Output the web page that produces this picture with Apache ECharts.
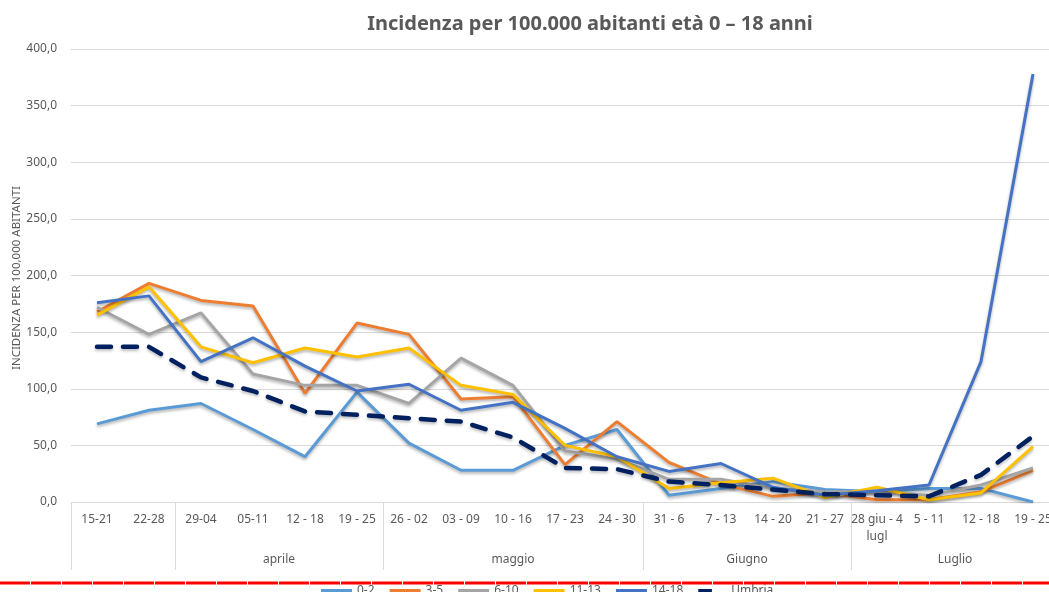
<!DOCTYPE html>
<html>
<head>
<meta charset="utf-8">
<title>Incidenza per 100.000 abitanti</title>
<script src="https://cdn.jsdelivr.net/npm/echarts@6/dist/echarts.min.js"></script>
<style>
    html, body { margin: 0; padding: 0; background: #fff; }
    #main-chart { width: 1049px; height: 592px; }
</style>
</head>
<body>
<div id="main-chart"></div>
<script>
// settimane (categorie asse x)
const weeks = ['15-21', '22-28', '29-04', '05-11', '12 - 18', '19 - 25', '26 - 02', '03 - 09', '10 - 16',
    '17 - 23', '24 - 30', '31 - 6', '7 - 13', '14 - 20', '21 - 27', '28 giu - 4\nlugl', '5 - 11', '12 - 18', '19 - 25'];

// mesi: posizione centrale e separatori (in unità di categoria)
const months = ['aprile', 'maggio', 'Giugno', 'Luglio'];
const monthCenters = [4, 8.5, 13, 17];
const monthBounds = [0, 2, 6, 11, 15, 19];

// incidenza per fascia d'età
const age0_2 = [69, 81, 87, 64, 40, 97, 52, 28, 28, 50, 64, 6, 12, 18, 11, 9, 12, 12, 0];
const age3_5 = [168, 193, 178, 173, 96, 158, 148, 91, 93, 33, 71, 35, 16, 5, 8, 2, 2, 9, 28];
const age6_10 = [172, 148, 167, 113, 103, 103, 87, 127, 103, 45, 38, 20, 20, 12, 9, 9, 6, 15, 30];
const age11_13 = [165, 190, 137, 123, 136, 128, 136, 103, 95, 50, 40, 12, 17, 21, 4, 13, 2, 8, 49];
const age14_18 = [176, 182, 124, 145, 120, 98, 104, 81, 88, 65, 40, 27, 34, 13, 6, 10, 15, 124, 378];
const umbria = [137, 137, 110, 98, 80, 77, 74, 71, 57, 30, 29, 18, 15, 11, 7, 6, 5, 24, 58];

const seriesNames = ['0-2', '3-5', '6-10', '11-13', '14-18', 'Umbria'];
const yAxisTitle = 'INCIDENZA PER 100,000 ABITANTI';

(function () {
    'use strict';

    const chart = echarts.init(document.getElementById('main-chart'));
    const textColor = '#595959';
    const gridColor = '#D9D9D9';
    const font = 'Noto Sans';

    // stile linea comune con ombra stile Excel
    function lineSeries(name, data, color) {
        return {
            name: name,
            type: 'line',
            data: data,
            symbol: 'none',
            xAxisIndex: 0,
            lineStyle: {
                color: color,
                width: 3,
                shadowColor: 'rgba(0,0,0,0.3)',
                shadowBlur: 3,
                shadowOffsetY: 2
            },
            itemStyle: { color: color }
        };
    }

    // icone legenda: linea piena, trattino corto per Umbria
    const legendData = seriesNames.map(function (n) {
        if (n === 'Umbria') {
            return { name: n, icon: 'path://M0,0H17V5H0Z M30.9,2.4H31V2.5H30.9Z' };
        }
        return { name: n, icon: 'rect' };
    });

    const option = {
        animation: false,
        title: {
            text: 'Incidenza per 100.000 abitanti età 0 – 18 anni',
            left: 585,
            textAlign: 'center',
            top: 9,
            textStyle: { color: textColor, fontSize: 20, fontWeight: 'bold', fontFamily: font }
        },
        legend: {
            data: legendData,
            left: 316,
            top: 580,
            itemWidth: 31,
            itemHeight: 4,
            itemGap: 15,
            textStyle: { color: textColor, fontSize: 12, fontFamily: font }
        },
        grid: { left: 71, top: 49, width: 988, height: 453, outerBoundsMode: 'none' },
        xAxis: [
            {
                type: 'category',
                data: weeks,
                boundaryGap: true,
                axisLine: { lineStyle: { color: gridColor, width: 1 } },
                axisTick: { show: false },
                axisLabel: {
                    color: textColor, fontSize: 12, fontFamily: font,
                    margin: 9, interval: 0, lineHeight: 17
                }
            },
            {
                // asse secondario per i mesi
                type: 'value',
                position: 'bottom',
                min: 0,
                max: 19,
                axisLine: { show: false },
                splitLine: { show: false },
                axisTick: {
                    show: true,
                    customValues: monthBounds,
                    length: 68,
                    lineStyle: { color: gridColor, width: 1 }
                },
                axisLabel: {
                    customValues: monthCenters,
                    margin: 52,
                    color: textColor, fontSize: 12, fontFamily: font,
                    formatter: function (v) {
                        const i = monthCenters.indexOf(v);
                        return i >= 0 ? months[i] : '';
                    }
                }
            }
        ],
        yAxis: {
            type: 'value',
            min: 0,
            max: 400,
            interval: 50,
            axisLine: { show: false },
            axisTick: { show: false },
            splitLine: { lineStyle: { color: gridColor, width: 1 } },
            axisLabel: {
                color: textColor, fontSize: 12, fontFamily: font, margin: 14,
                formatter: function (v) { return v.toFixed(1).replace('.', ','); }
            }
        },
        series: [
            lineSeries('0-2', age0_2, '#5B9BD5'),
            lineSeries('3-5', age3_5, '#ED7D31'),
            lineSeries('6-10', age6_10, '#A5A5A5'),
            lineSeries('11-13', age11_13, '#FFC000'),
            lineSeries('14-18', age14_18, '#4472C4'),
            {
                name: 'Umbria',
                type: 'line',
                data: umbria,
                symbol: 'none',
                xAxisIndex: 0,
                z: 5,
                lineStyle: {
                    color: '#002060',
                    width: 4.5,
                    type: [14, 12],
                    cap: 'round',
                    shadowColor: 'rgba(0,0,0,0.25)',
                    shadowBlur: 3,
                    shadowOffsetY: 2
                },
                itemStyle: { color: '#002060' }
            }
        ],
        graphic: [
            {
                // titolo asse y ruotato
                type: 'text',
                x: 17,
                y: 278,
                rotation: Math.PI / 2,
                style: {
                    text: yAxisTitle,
                    fill: textColor,
                    font: '11.5px "Noto Sans"',
                    align: 'center',
                    verticalAlign: 'middle'
                }
            },
            {
                // linea rossa sovrapposta in basso
                type: 'line',
                z: 100,
                shape: { x1: 0, y1: 583, x2: 1049, y2: 583 },
                style: { stroke: '#FF0000', lineWidth: 3, lineDash: [30, 1] }
            }
        ]
    };

    chart.setOption(option);
})();
</script>
</body>
</html>
